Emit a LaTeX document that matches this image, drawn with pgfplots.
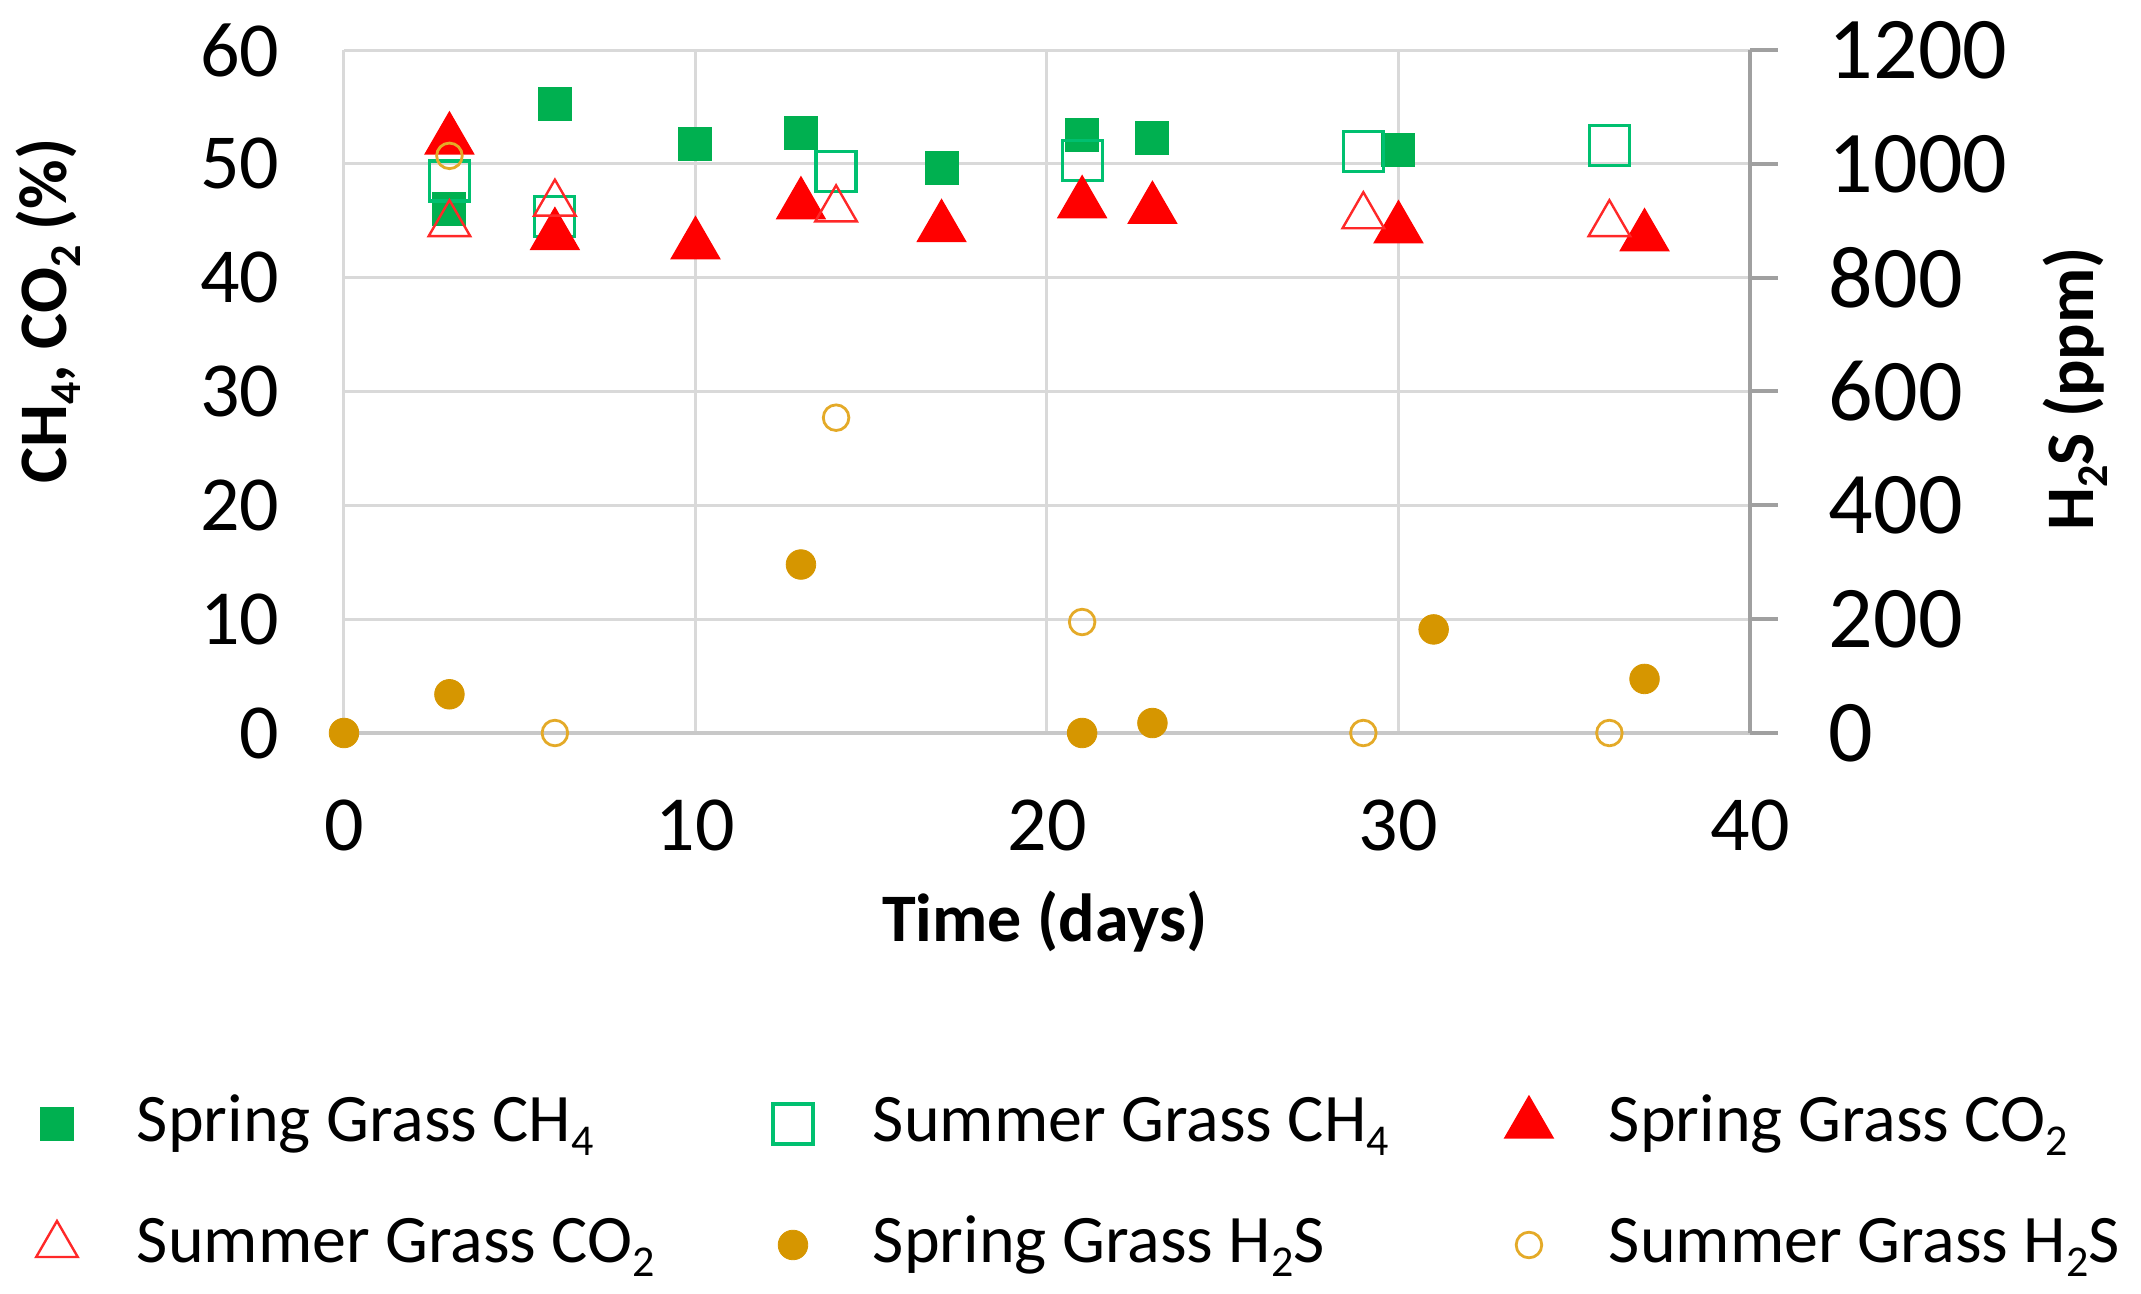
\documentclass[border=0pt]{standalone}
\usepackage{pgfplots}
\pgfplotsset{compat=1.18}
\usepackage{fontspec}
\setmainfont{Carlito}
\definecolor{sgreen}{RGB}{0,176,80}
\definecolor{ugreen}{RGB}{0,192,112}
\definecolor{sred}{RGB}{255,0,0}
\definecolor{ured}{RGB}{255,40,40}
\definecolor{sgold}{RGB}{214,150,0}
\definecolor{ugold}{RGB}{228,170,40}
\definecolor{gridgray}{RGB}{217,217,217}
\definecolor{botgray}{RGB}{200,200,200}
\definecolor{rgray}{RGB}{160,160,160}
\newcommand\sub[1]{\raisebox{-3.5pt}{\fontsize{11}{12}\selectfont #1}}
\newcommand\legtxt[1]{\makebox[156pt][l]{\rule[-10pt]{0pt}{29.5pt}#1}}
\pgfplotsset{
  leg/.style={legend image code/.code={\path[draw=none,fill=none] (-8pt,0pt) (20pt,0pt); \draw[##1] plot coordinates {(0pt,-4.5pt)};}},
  mSpCH/.style={only marks, mark=square*, mark size=4.1pt, mark options={solid, draw=sgreen, fill=sgreen, line width=0.3pt}, leg},
  mSuCH/.style={only marks, mark=square, mark size=5.0pt, mark options={solid, draw=ugreen, line width=0.8pt}, leg},
  mSpCO/.style={only marks, mark=triangle*, mark size=7pt, mark options={solid, draw=sred, fill=sred, line width=0.3pt}, leg},
  mSuCO/.style={only marks, mark=triangle, mark size=6pt, mark options={solid, draw=ured, line width=0.6pt}, leg},
  mSpH/.style={only marks, mark=*, mark size=3.7pt, mark options={solid, draw=sgold, fill=sgold, line width=0.2pt}, leg},
  mSuH/.style={only marks, mark=o, mark size=3.2pt, mark options={solid, draw=ugold, line width=0.7pt}, leg},
}
\begin{document}
\begin{tikzpicture}
\useasboundingbox (-86pt,-140.25pt) rectangle (449.25pt,183.25pt);
\begin{axis}[
  at={(0,0)}, anchor=south west,
  width=351.5pt, height=170.75pt, scale only axis,
  xmin=0, xmax=40, ymin=0, ymax=60,
  xtick={0,10,20,30,40}, ytick={0,10,20,30,40,50,60},
  grid=major, major grid style={draw=gridgray, line width=0.75pt},
  separate axis lines,
  axis x line*=bottom, axis y line*=left,
  x axis line style={draw=botgray, line width=0.9pt, -},
  y axis line style={draw=gridgray, line width=0.75pt, -},
  major tick length=0pt,
  clip=false,
  /pgf/number format/assume math mode=true,
  ticklabel style={font=\fontsize{19.5}{24}\selectfont, inner sep=0pt},
  yticklabel style={anchor=east, xshift=-16pt},
  xticklabel style={anchor=north, yshift=-16.5pt},
  xlabel={Time (days)},
  xlabel style={at={(axis description cs:0.4986,-0.2767)}, anchor=center, font=\fontsize{17}{20}\selectfont\bfseries},
  ylabel={CH\sub{4}, CO\sub{2} (\%)},
  ylabel style={at={(axis description cs:-0.2105,0.618)}, anchor=center, font=\fontsize{17}{20}\selectfont\bfseries},
]
\addplot[mSpCH] coordinates {(3,46.0) (6,55.3) (10,51.7) (13,52.7) (17,49.6) (21,52.5) (23,52.3) (30,51.2)};
\addplot[mSuCH] coordinates {(3,48.5) (6,45.4) (14,49.3) (21,50.3) (29,51.05) (36,51.6)};
\addplot[mSpCO] coordinates {(3,52.1) (6,43.7) (10,42.9) (13,46.4) (17,44.4) (21,46.5) (23,46.0) (30,44.3) (37,43.6)};
\addplot[mSuCO] coordinates {(3,44.7) (6,46.5) (14,46.0) (29,45.4) (36,44.7)};
\end{axis}
\begin{axis}[
  at={(0,0)}, anchor=south west,
  width=351.5pt, height=170.75pt, scale only axis,
  xmin=0, xmax=40, ymin=0, ymax=1200,
  axis x line=none, xtick=\empty,
  axis y line*=right,
  ytick={0,200,400,600,800,1000,1200},
  y axis line style={draw=rgray, line width=1pt, -},
  ytick style={draw=rgray, line width=1pt},
  tick align=outside, major tick length=7pt,
  clip=false,
  /pgf/number format/assume math mode=true,
  /pgf/number format/set thousands separator={},
  yticklabel style={font=\fontsize{22}{26}\selectfont, inner sep=0pt, anchor=west, xshift=12.5pt},
  ylabel={H\sub{2}S (ppm)},
  ylabel style={at={(axis description cs:1.2311,0.5037)}, anchor=center, font=\fontsize{17}{20}\selectfont\bfseries},
  legend columns=3,
  legend cell align=left,
  legend style={at={(axis description cs:-0.2269,-0.4846)}, anchor=north west, draw=none, fill=none,
    inner sep=0pt, outer sep=0pt, row sep=9.25pt, column sep=0pt,
    nodes={inner sep=0pt, outer sep=0pt}, font=\fontsize{17}{20}\selectfont},
]
\addlegendimage{mSpCH}
\addlegendimage{mSuCH}
\addlegendimage{mSpCO}
\addlegendimage{mSuCO}
\addplot[mSpH] coordinates {(0,0) (3,68) (13,296) (21,0) (23,17.5) (31,182) (37,95)};
\addplot[mSuH] coordinates {(3,1014) (6,0) (14,554) (21,195) (29,0) (36,0)};
\legend{\legtxt{Spring Grass CH\sub{4}}, \legtxt{Summer Grass CH\sub{4}}, \legtxt{Spring Grass CO\sub{2}}, \legtxt{Summer Grass CO\sub{2}}, \legtxt{Spring Grass H\sub{2}S}, \legtxt{Summer Grass H\sub{2}S}}
\end{axis}
\end{tikzpicture}
\end{document}
